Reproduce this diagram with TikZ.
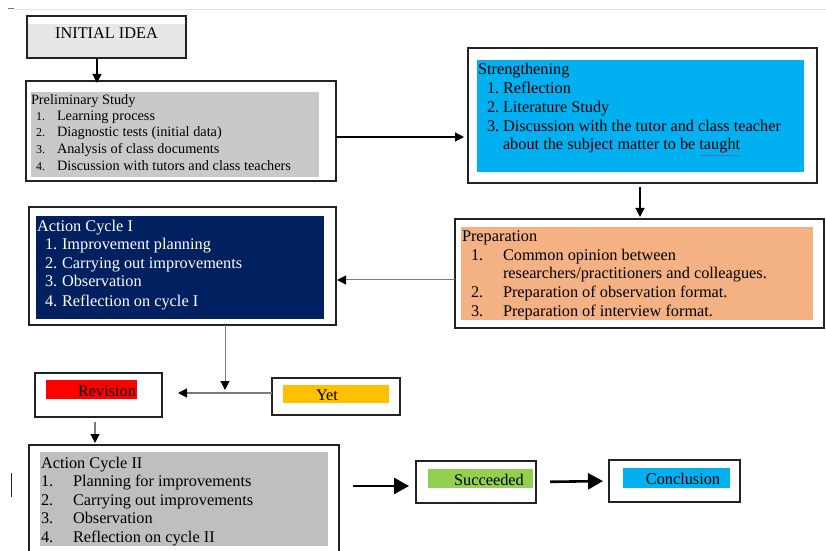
\documentclass[tikz,border=0pt]{standalone}
\usepackage{fontspec}
\setmainfont{Liberation Serif}
\usetikzlibrary{arrows.meta}
\definecolor{ink}{HTML}{222222}
\definecolor{rule}{HTML}{7A7A7A}
\definecolor{faint}{HTML}{E4E4E4}
\definecolor{ideagray}{HTML}{E7E7E7}
\definecolor{pregray}{HTML}{C9C9C9}
\definecolor{sky}{HTML}{00B0F0}
\definecolor{peach}{HTML}{F4B183}
\definecolor{navy}{HTML}{002060}
\definecolor{cyclegray}{HTML}{BFBFBF}
\definecolor{amber}{HTML}{FFC000}
\definecolor{leaf}{HTML}{92D050}
\definecolor{alarm}{HTML}{FF0000}
\definecolor{spell}{HTML}{4472C4}
\newcommand{\bodyfont}{\fontsize{16.3bp}{18bp}\selectfont}
\newcommand{\prefont}{\fontsize{14.3bp}{16bp}\selectfont}
\newcommand{\numfont}{\fontsize{12bp}{13bp}\selectfont}
\newcommand{\spellmark}[1]{\textcolor{spell}{\underline{\textcolor{black}{#1}}}}
\tikzset{
  every node/.style={font=\bodyfont,text=black,inner sep=0pt,outer sep=0pt},
  frame/.style={draw=ink,line width=1.2bp,fill=white,rectangle},
  line/.style={anchor=base west},
  flow/.style={line width=1.2bp,-{Triangle[length=9bp,width=9bp,color=black]}},
  bigflow/.style={line width=2.6bp,-{Triangle[length=15bp,width=16bp]}}
}
\begin{document}
\begin{tikzpicture}[x=1bp,y=-1bp]

\useasboundingbox (0,0) rectangle (826,551);
% page edge marks of the scan
\draw[faint,line width=.8bp] (15,9) -- (826,9);
\draw[rule,line width=1bp] (8,9) -- (14,9);
\draw[ink,line width=1bp] (11,473) -- (11,497);

% outer frames
\node[frame,minimum width=159bp,minimum height=42bp] (idea) at (106.5,37) {};
\node[frame,minimum width=310bp,minimum height=100bp] (prelim) at (181,131) {};
\node[frame,minimum width=349bp,minimum height=135bp] (streng) at (642.5,115.5) {};
\node[frame,minimum width=369bp,minimum height=109bp] (prep) at (639.5,273.5) {};
\node[frame,minimum width=307bp,minimum height=118bp] (cyc1) at (182.5,266) {};
\node[frame,minimum width=127bp,minimum height=44bp] (rev) at (98.5,395) {};
\node[frame,minimum width=128bp,minimum height=37bp] (yet) at (336,396.5) {};
\node[frame,minimum width=310bp,minimum height=111bp] (cyc2) at (184,500.5) {};
\node[frame,minimum width=120bp,minimum height=42bp] (succ) at (476,482) {};
\node[frame,minimum width=131bp,minimum height=42bp] (concl) at (674.5,481) {};

% coloured text panels
\fill[ideagray] (28,24) rectangle (185,57);
\fill[pregray] (31,92) rectangle (319,177);
\fill[sky] (477,60) rectangle (804,172);
\fill[peach] (461,227) rectangle (813,320);
\fill[navy] (36,216) rectangle (324,319);
\fill[alarm] (46,380) rectangle (137,399);
\fill[amber] (283,385) rectangle (389,403);
\fill[cyclegray] (40,452) rectangle (328,546);
\fill[leaf] (428,469) rectangle (533,488);
\fill[sky] (623,468) rectangle (730,488);

\node[anchor=base] (ideaT) at (106.5,39) {INITIAL IDEA};

\node[line,font=\prefont] (prelimT) at (31,105) {Preliminary Study};
\foreach \i/\y/\t in {1/121/Learning process,2/137/Diagnostic tests (initial data),3/154/Analysis of class documents,4/171/Discussion with tutors and class teachers}{
  \node[anchor=base east,font=\numfont] (prelimN\i) at (45,\y) {\i.};
  \node[line,font=\prefont] (prelim\i) at (57,\y) {\t};
}

\node[line] (strengT) at (478,75) {Strengthening};
\foreach \i/\y in {1/94,2/113,3/132}
  \node[line] (strengN\i) at (487,\y) {\i.};
\foreach \i/\y/\t in {1/94/Reflection,2/113/Literature Study,3/132/Discussion with the tutor and class teacher,4/150/about the subject matter to be \spellmark{taught}}
  \node[line] (streng\i) at (503,\y) {\t};

\node[line] (prepT) at (462,242) {Preparation};
\foreach \i/\y in {1/261,2/298,3/317}
  \node[line] (prepN\i) at (471,\y) {\i.};
\foreach \i/\y/\t in {1/261/Common opinion between,2/279/{researchers/practitioners and colleagues.},3/298/Preparation of observation format.,4/317/Preparation of interview format.}
  \node[line] (prep\i) at (503,\y) {\t};

\node[line,text=white] (cyc1T) at (37,232) {Action Cycle I};
\foreach \i/\y/\t in {1/250/Improvement planning,2/269/Carrying out improvements,3/287/Observation,4/307/Reflection on cycle I}{
  \node[line,text=white] (cyc1N\i) at (45,\y) {\i.};
  \node[line,text=white] (cyc1\i) at (62,\y) {\t};
}

\node[line] (cyc2T) at (41,468) {Action Cycle II};
\foreach \i/\y/\t in {1/486/Planning for improvements,2/505/Carrying out improvements,3/523/Observation,4/542/Reflection on cycle II}{
  \node[line] (cyc2N\i) at (41,\y) {\i.};
  \node[line] (cyc2\i) at (73,\y) {\t};
}

\node[anchor=base] (revT) at (107,396) {Revision};
\node[anchor=base] (yetT) at (327,400) {Yet};
\node[anchor=base] (succT) at (489,485) {Succeeded};
\node[anchor=base] (conclT) at (683,484) {Conclusion};

% connectors
\path ([yshift=-6bp]prelim.east) coordinate (p1);
\path ([yshift=-6.5bp]prep.west) coordinate (p2);
\path ([yshift=-4bp]succ.west) coordinate (p3);
\coordinate (meet) at (225,393);
\coordinate (revtip) at (178,393);
\draw[flow,shorten >=-2bp] ([xshift=-9.5bp]idea.south) -- ([xshift=-9.5bp]idea.south |- prelim.north);
\draw[flow,shorten >=4bp] (p1) -- (p1 -| streng.west);
\draw[flow,shorten <=4bp,shorten >=2bp] ([xshift=-2.5bp]streng.south) -- ([xshift=-2.5bp]streng.south |- prep.north);
\draw[flow,rule,line width=1bp,shorten >=1bp] (p2) -- (p2 -| cyc1.east);
\draw[flow,rule,line width=1bp,shorten >=3bp] (cyc1.south -| meet) -- (meet);
\draw[flow,rule] (yet.west |- meet) -- (revtip);
\draw[flow,rule,shorten <=5bp,shorten >=2bp] ([xshift=-3.5bp]rev.south) -- ([xshift=-3.5bp]rev.south |- cyc2.north);
\draw[bigflow,shorten <=14bp,shorten >=7bp] (cyc2.east |- p3) -- (p3);
\draw[bigflow,shorten <=14bp,shorten >=6bp] (succ.east) -- (concl.west);
\end{tikzpicture}
\end{document}
